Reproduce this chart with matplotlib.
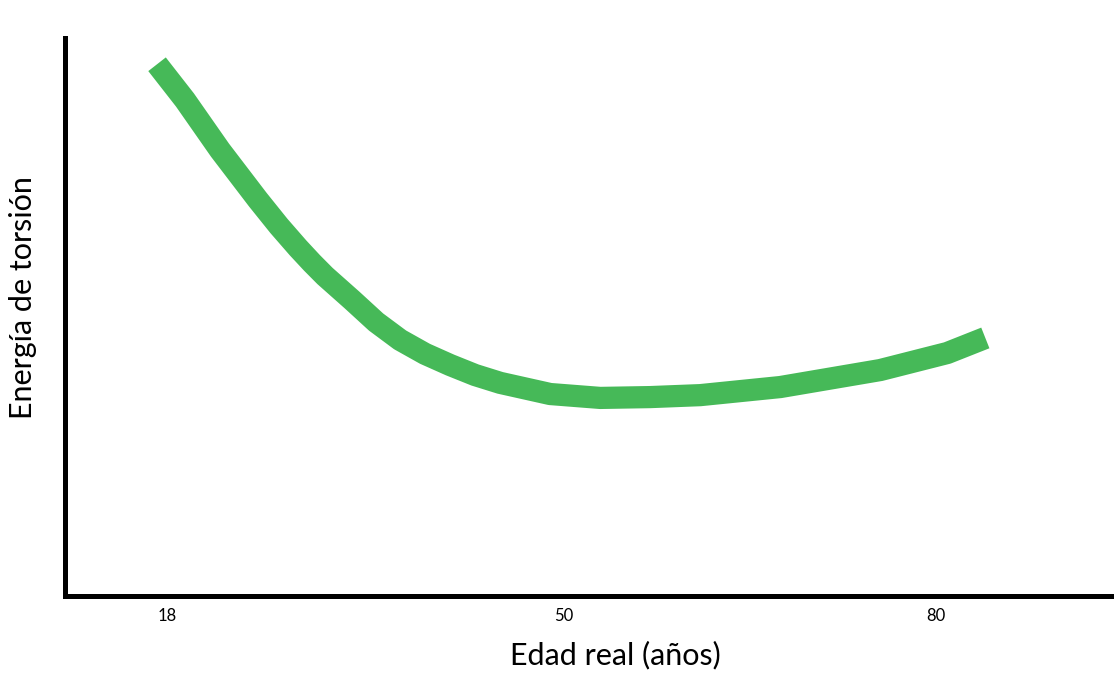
import matplotlib
matplotlib.use('Agg')
import matplotlib.pyplot as plt

# edad real (años) vs energía de torsión (unidades arbitrarias)
edad = [17.2, 19.45, 22.28, 25.34, 27.04, 28.57, 29.70, 30.75, 32.93, 34.87,
        36.81, 38.82, 40.84, 42.86, 44.88, 48.91, 52.95, 56.98, 61.02, 67.48,
        75.55, 80.95, 84.02]
energia = [95.3, 88.9, 79.9, 71.0, 66.3, 62.4, 59.7, 57.35, 53.05, 49.1,
           45.9, 43.4, 41.4, 39.6, 38.2, 36.2, 35.5, 35.65, 36.0, 37.45,
           40.5, 43.55, 46.25]
ticks = [18, 50, 80]

plt.rcParams['font.family'] = ['Lato', 'DejaVu Sans']

fig = plt.figure(figsize=(11.14, 6.73), dpi=100)
ax = fig.add_axes([0.0583, 0.1144, 0.9417, 0.8291])

ax.plot(edad, energia, color='#3cb64f', linewidth=16, solid_capstyle='butt',
        solid_joinstyle='round', alpha=0.95)

ax.set_xlim(9.77, 94.4)
ax.set_ylim(0, 100)

for s in ['top', 'right']:
    ax.spines[s].set_visible(False)
for s in ['left', 'bottom']:
    ax.spines[s].set_linewidth(3.6)
    ax.spines[s].set_color('black')

ax.set_xticks(ticks)
ax.set_xticklabels([str(t) for t in ticks], fontsize=12)
ax.tick_params(axis='x', direction='out', length=2.5, width=3, pad=6)
ax.set_yticks([])

ax.set_xlabel('Edad real (años)', fontsize=22)
ax.set_ylabel('Energía de torsión', fontsize=22)
ax.xaxis.set_label_coords(0.525, -0.08)
ax.yaxis.set_label_coords(-0.027, 0.534)

fig.savefig('out.png', dpi=100)
